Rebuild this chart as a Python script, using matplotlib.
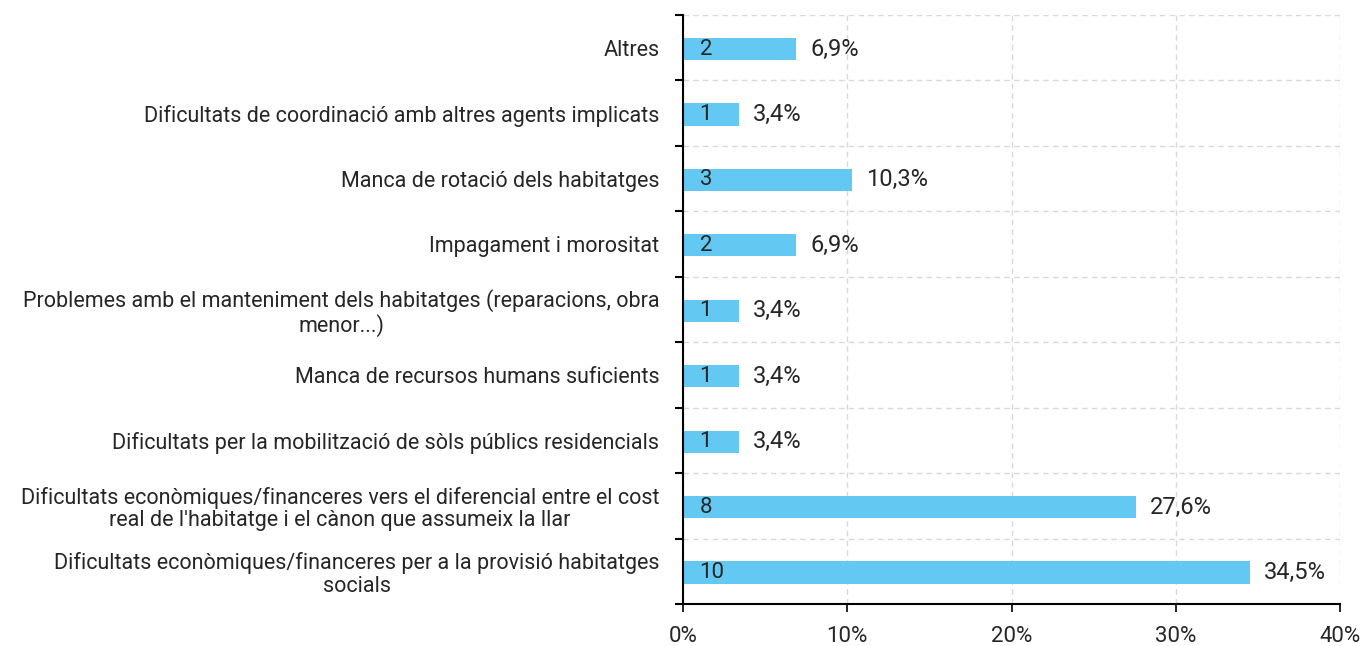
import matplotlib
matplotlib.use("Agg")
import matplotlib.pyplot as plt
import numpy as np
from matplotlib.ticker import FixedLocator, FuncFormatter

plt.rcParams['font.family'] = ['Roboto', 'DejaVu Sans']

categories = [
    "Altres",
    "Dificultats de coordinació amb altres agents implicats",
    "Manca de rotació dels habitatges",
    "Impagament i morositat",
    "Problemes amb el manteniment dels habitatges (reparacions, obra\nmenor...)",
    "Manca de recursos humans suficients",
    "Dificultats per la mobilització de sòls públics residencials",
    "Dificultats econòmiques/financeres vers el diferencial entre el cost\nreal de l'habitatge i el cànon que assumeix la llar",
    "Dificultats econòmiques/financeres per a la provisió habitatges\nsocials",
]
counts = [2, 1, 3, 2, 1, 1, 1, 8, 10]
percents = [6.9, 3.4, 10.3, 6.9, 3.4, 3.4, 3.4, 27.6, 34.5]
xticks = [0, 10, 20, 30, 40]

bar_color = "#63C9F3"
text_color = "#262626"
fs = 15.5

fig = plt.figure(figsize=(13.63, 6.46), dpi=100)
ax = fig.add_axes([683/1363, 1-604/646, (1340-683)/1363, (604-15)/646])

n = len(categories)
y = np.arange(n)
ax.barh(y + 0.02, percents, height=0.34, color=bar_color, zorder=3)

for yi, c, p in zip(y, counts, percents):
    ax.annotate(str(c), xy=(0, yi + 0.02), xytext=(12, 0), textcoords="offset points",
                ha="left", va="center", fontsize=16, color=text_color, zorder=4)
    ax.annotate(f"{p:.1f}%".replace(".", ","), xy=(p, yi + 0.02), xytext=(10, 0),
                textcoords="offset points", ha="left", va="center",
                fontsize=17, color=text_color, zorder=4)

ax.set_ylim(n - 0.5, -0.5)
ax.set_xlim(0, 40)
ax.set_yticks(y)
ax.set_yticklabels(categories, fontsize=fs, color=text_color, multialignment="center",
                   linespacing=1.1)
ax.yaxis.set_minor_locator(FixedLocator(np.arange(n + 1) - 0.5))
ax.tick_params(axis="y", which="major", length=0, pad=17)
ax.tick_params(axis="y", which="minor", length=6, width=1.5, direction="out", color="black")

ax.set_xticks(xticks)
ax.xaxis.set_major_formatter(FuncFormatter(lambda v, pos: f"{v:.0f}%"))
ax.tick_params(axis="x", which="major", length=6, width=1.2, direction="out",
               labelsize=16, labelcolor=text_color, pad=10)

ax.grid(axis="x", which="major", color="#d9d9d9", linestyle=(0, (4, 3)), linewidth=1, zorder=0)
ax.grid(axis="y", which="minor", color="#d9d9d9", linestyle=(0, (4, 3)), linewidth=1, zorder=0)

for s in ["top", "right"]:
    ax.spines[s].set_visible(False)
ax.spines["left"].set_linewidth(1.5)
ax.spines["bottom"].set_linewidth(1.5)
ax.spines["left"].set_zorder(5)

fig.savefig("out.png", dpi=100)
